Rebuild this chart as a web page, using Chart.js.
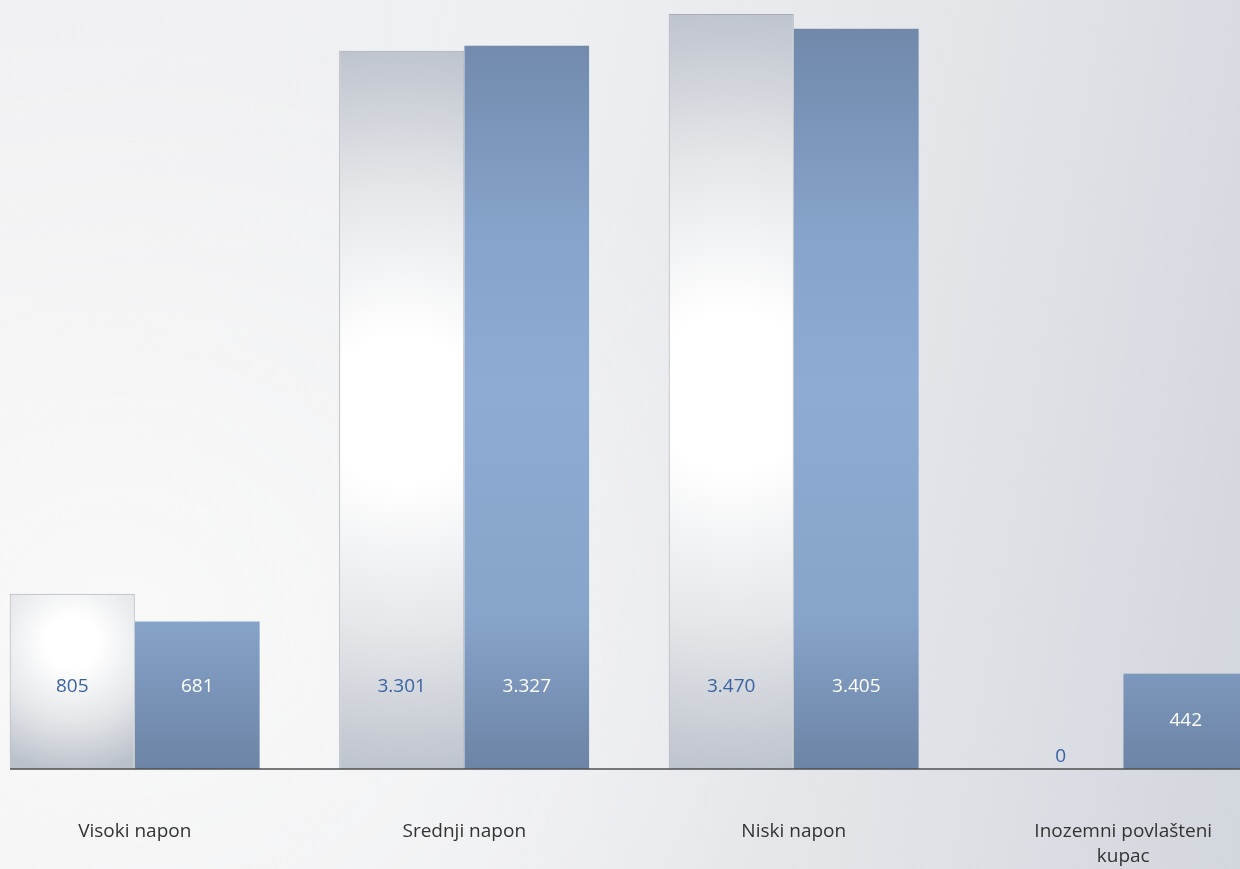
<!DOCTYPE html>
<html lang="hr">
<head>
  <meta charset="UTF-8">
  <title>Napon</title>
  <script src="https://cdn.jsdelivr.net/npm/chart.js"></script>
  <style>
    html, body {
      margin: 0;
      padding: 0;
      width: 1240px;
      height: 869px;
      overflow: hidden;
    }
    body {
      background:
        radial-gradient(ellipse 700px 600px at 120px 620px, rgba(250,250,250,0.9), rgba(250,250,250,0) 100%),
        linear-gradient(100deg, #f1f1f3 0%, #eeeff1 40%, #e3e5e9 70%, #d2d6dd 100%);
      font-family: 'Open Sans', sans-serif;
    }
    #wrap {
      position: absolute;
      left: -30px;
      top: 0;
      width: 1318px;
      height: 869px;
    }
  </style>
</head>
<body>
  <div id="wrap"><canvas id="grafikon"></canvas></div>

  <script>
    const kategorije = ['Visoki napon', 'Srednji napon', 'Niski napon', ['Inozemni povlašteni', 'kupac']];
    const serijaA = [805, 3301, 3470, 0];
    const serijaB = [681, 3327, 3405, 442];
    const oznakeA = ['805', '3.301', '3.470', '0'];
    const oznakeB = ['681', '3.327', '3.405', '442'];

    const sirinaGrupe = 0.759;

    // bijeli stupci: radijalni gradijent po stupcu
    function bijelo(c) {
      const chart = c.chart;
      const sx = chart.scales.x, sy = chart.scales.y;
      if (!sx || !sy || c.type !== 'data' || !c.raw) return '#e6e8eb';
      const top = sy.getPixelForValue(c.raw);
      const base = sy.getPixelForValue(0);
      const h = base - top;
      const w = sx.width / kategorije.length * sirinaGrupe / 2;
      const cx = sx.getPixelForValue(c.dataIndex) - w / 2;
      const cy = top + h * (h > 400 ? 0.5 : 0.28);
      const r = Math.max(h * 0.52, 130);
      if (![cx, cy, r].every(Number.isFinite) || h <= 0) return '#e6e8eb';
      const g = chart.ctx.createRadialGradient(cx, cy, 0, cx, cy, r);
      g.addColorStop(0, '#ffffff');
      g.addColorStop(0.2, '#ffffff');
      g.addColorStop(0.6, '#e4e6e9');
      g.addColorStop(1, '#bbc1cb');
      return g;
    }

    // plavi stupci: okomiti gradijent preko cijele povrsine
    function plavo(c) {
      const chart = c.chart;
      const a = chart.chartArea;
      if (!a || !Number.isFinite(a.top) || a.bottom <= a.top) return '#86a2c9';
      const g = chart.ctx.createLinearGradient(0, a.top, 0, a.bottom);
      g.addColorStop(0, '#6d85a6');
      g.addColorStop(0.3, '#86a3cb');
      g.addColorStop(0.5, '#8eabd3');
      g.addColorStop(0.8, '#87a4cb');
      g.addColorStop(1, '#6c84a5');
      return g;
    }

    const vrijednosti = {
      id: 'vrijednosti',
      afterDatasetsDraw(chart) {
        const ctx = chart.ctx;
        ctx.save();
        ctx.font = '19px "Open Sans"';
        ctx.textAlign = 'center';
        ctx.textBaseline = 'middle';
        [oznakeA, oznakeB].forEach((oznake, di) => {
          chart.getDatasetMeta(di).data.forEach((bar, i) => {
            const h = bar.base - bar.y;
            let off = 82;
            if (h <= 0) off = 12;
            else if (h < 120) off = h / 2;
            ctx.fillStyle = di === 0 ? '#3a63a4' : '#ffffff';
            ctx.fillText(oznake[i], bar.x, bar.base - off);
          });
        });
        // os
        const y = chart.scales.x.top;
        ctx.strokeStyle = '#4f4f4f';
        ctx.lineWidth = 1.6;
        ctx.beginPath();
        ctx.moveTo(40, y);
        ctx.lineTo(chart.width, y);
        ctx.stroke();
        ctx.restore();
      }
    };

    new Chart(document.getElementById('grafikon'), {
      type: 'bar',
      data: {
        labels: kategorije,
        datasets: [{
          data: serijaA,
          backgroundColor: bijelo,
          borderColor: '#a8acb3',
          borderWidth: 1,
          barPercentage: 1,
          categoryPercentage: sirinaGrupe
        }, {
          data: serijaB,
          backgroundColor: plavo,
          borderColor: 'rgba(205,209,215,0.9)',
          borderWidth: { top: 1, left: 0, right: 0, bottom: 0 },
          barPercentage: 1,
          categoryPercentage: sirinaGrupe
        }]
      },
      options: {
        responsive: true,
        maintainAspectRatio: false,
        animation: false,
        layout: { padding: 0 },
        plugins: {
          legend: { display: false },
          tooltip: { enabled: false }
        },
        scales: {
          x: {
            grid: { display: false, drawTicks: false },
            border: { display: false },
            afterFit(scale) { scale.height = 100; },
            ticks: {
              autoSkip: false,
              maxRotation: 0,
              padding: 50,
              color: '#333333',
              font: { family: 'Open Sans', size: 19, lineHeight: '25px' }
            }
          },
          y: {
            display: false,
            min: 0,
            max: 3534
          }
        }
      },
      plugins: [vrijednosti]
    });
  </script>
</body>
</html>
